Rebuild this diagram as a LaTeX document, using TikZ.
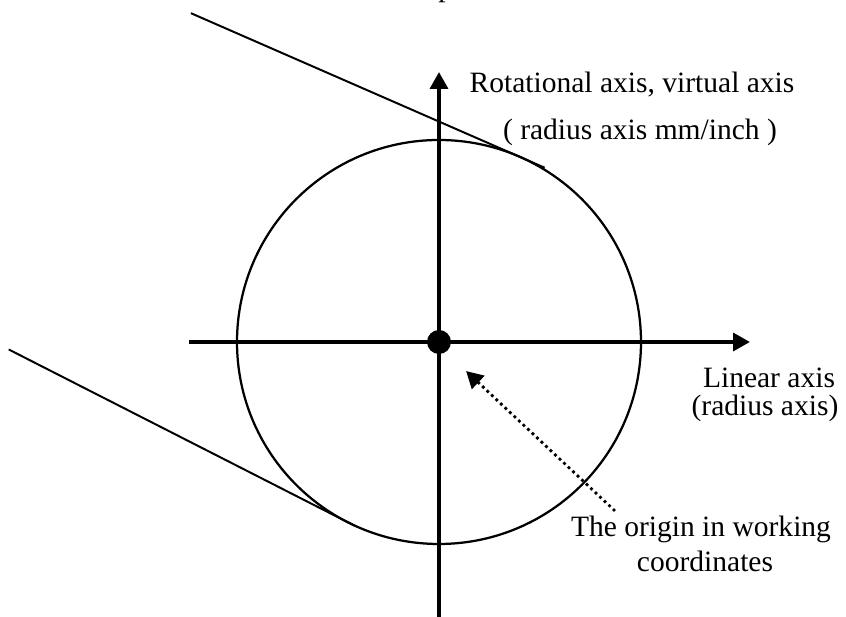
\documentclass[tikz,border=0pt]{standalone}
\usepackage{fontspec}
\setmainfont{Liberation Serif}
\usetikzlibrary{arrows.meta,calc}

\begin{document}
\begin{tikzpicture}[
  axis/.style={line width=2.8pt, -{Triangle[length=4.2mm,width=4.4mm]}},
  tangent/.style={line width=1.4pt},
  pointer/.style={line width=2.8pt, line cap=round, dash pattern=on 0pt off 4.4pt, -{Triangle[length=4.2mm,width=4.4mm]}},
  lbl/.style={anchor=base, inner sep=0pt, font=\fontsize{21}{25}\selectfont},
]
\useasboundingbox (0,0) rectangle (21.15,15.425);

% circle and origin
\coordinate (C) at (10.975,6.875);
\draw[line width=1.6pt] (C) circle (5.05);

% tangent lines
\coordinate (T1) at ($(C)+(66.4:5.05)$);
\coordinate (T2) at ($(C)+(243:5.05)$);
\draw[tangent] ($(T1)+(156.4:8.975)$) -- ($(T1)+(-23.6:0.675)$);
\draw[tangent] ($(T2)+(153:9.5)$) -- ($(T2)+(-27:0.2)$);

% axes
\coordinate (Xs) at (4.725,6.875);
\coordinate (Xe) at (18.75,6.875);
\coordinate (Ys) at (10.975,-0.1);
\coordinate (Ye) at (10.975,13.625);
\draw[axis] (Xs) -- (Xe);
\draw[axis] (Ys) -- (Ye);
\node[circle, fill=black, inner sep=0pt, minimum size=6mm] (O) at (C) {};

% labels
\node[lbl] (rot1) at (15.8,13.1) {Rotational axis, virtual axis};
\node[lbl] (rot2) at (16.0,11.925) {( radius axis mm/inch )};
\node[lbl] (lin1) at (19.225,5.725) {Linear axis};
\node[lbl] (lin2) at (19.125,5.025) {(radius axis)};
\node[lbl] (org1) at (17.525,2.0) {The origin in working};
\node[lbl] (org2) at (17.625,1.125) {coordinates};
\node[lbl, anchor=base west] (ttl) at (10.95,15.5) {p};

% pointer to origin
\coordinate (P1) at (15.35,2.675);
\coordinate (P2) at (11.65,6.15);
\draw[pointer] (P1) -- (P2);
\end{tikzpicture}
\end{document}
